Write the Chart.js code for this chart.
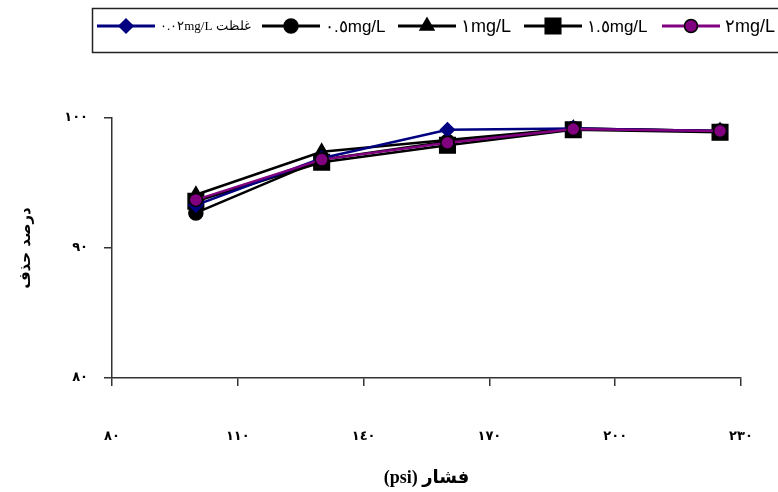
<!DOCTYPE html>
<html>
<head>
<meta charset="utf-8">
<script src="https://cdn.jsdelivr.net/npm/chart.js@4"></script>
<style>
  html, body { margin: 0; padding: 0; background: #fff; }
  #wrap { width: 778px; height: 492px; }
</style>
</head>
<body>
<div id="wrap"><canvas id="chart"></canvas></div>
<script>
// pressure (psi) and removal percent per concentration
const pressure = [100, 130, 160, 190, 225];
const seriesLabels = ['٠.٠٢mg/L غلظت', '٠.٥mg/L', '١mg/L', '١.٥mg/L', '٢mg/L'];
const removal002 = [93.3, 96.9, 99.1, 99.2, 99.0];
const removal05  = [92.7, 96.8, 98.2, 99.2, 99.0];
const removal1   = [94.1, 97.4, 98.3, 99.2, 99.0];
const removal15  = [93.6, 96.6, 97.9, 99.1, 98.9];
const removal2   = [93.7, 96.8, 98.1, 99.15, 99.0];

const xTickLabels = {80: '٨٠', 110: '١١٠', 140: '١٤٠', 170: '١٧٠', 200: '٢٠٠', 230: '٢٣٠'};
const yTickLabels = {80: '٨٠', 90: '٩٠', 100: '١٠٠'};
const xTitle = '\u202Bفشار (psi)\u202C';
const yTitle = 'درصد حذف';

const toXY = (ys) => ys.map((y, i) => ({x: pressure[i], y: y}));

// legend with line + marker samples, drawn inside an open box on top
const lineLegend = {
  id: 'lineLegend',
  afterDraw(chart, args, opts) {
    const ctx = chart.ctx;
    ctx.save();
    ctx.strokeStyle = '#222';
    ctx.lineWidth = 1.5;
    ctx.strokeRect(92.5, 8.5, 720, 44);
    chart.data.datasets.forEach((ds, i) => {
      const x = opts.itemX[i], y = 26;
      ctx.strokeStyle = ds.borderColor;
      ctx.lineWidth = 3;
      ctx.beginPath();
      ctx.moveTo(x, y);
      ctx.lineTo(x + 58, y);
      ctx.stroke();
      ctx.fillStyle = ds.pointBackgroundColor;
      ctx.strokeStyle = ds.pointBorderColor;
      ctx.lineWidth = ds.pointBorderWidth;
      Chart.helpers.drawPoint(ctx, {
        pointStyle: ds.pointStyle,
        radius: ds.pointRadius,
        borderWidth: ds.pointBorderWidth,
        rotation: 0
      }, x + 29, y);
      ctx.fillStyle = '#000';
      ctx.font = opts.fonts[i];
      ctx.textBaseline = 'middle';
      ctx.textAlign = 'left';
      ctx.fillText(ds.label, x + 63, y + 1);
    });
    ctx.restore();
  }
};

const makeSet = (i, data, color, style, radius, fill, order) => ({
  label: seriesLabels[i],
  data: toXY(data),
  borderColor: color,
  borderWidth: 2.5,
  pointStyle: style,
  pointRadius: radius,
  pointHoverRadius: radius,
  pointBackgroundColor: fill,
  pointBorderColor: fill === '#800080' ? '#000' : fill,
  pointBorderWidth: 1.5,
  tension: 0,
  clip: false,
  order: order
});

new Chart(document.getElementById('chart'), {
  type: 'line',
  data: {
    datasets: [
      makeSet(0, removal002, '#000080', 'rectRot', 7, '#000080', 1),
      makeSet(1, removal05, '#000', 'circle', 7, '#000', 4),
      makeSet(2, removal1, '#000', 'triangle', 8, '#000', 3),
      makeSet(3, removal15, '#000', 'rect', 11, '#000', 2),
      makeSet(4, removal2, '#800080', 'circle', 6.5, '#800080', 0)
    ]
  },
  options: {
    responsive: true,
    maintainAspectRatio: false,
    animation: false,
    devicePixelRatio: 1,
    layout: { padding: { top: 118, right: 37, left: 0, bottom: 0 } },
    plugins: {
      legend: { display: false },
      tooltip: { enabled: false },
      lineLegend: {
        itemX: [97, 262, 398, 524, 662],
        fonts: ['13px "Liberation Serif"', '17px "Liberation Sans"', '18px "Liberation Sans"',
                '17px "Liberation Sans"', '18px "Liberation Sans"']
      }
    },
    scales: {
      x: {
        type: 'linear',
        min: 80,
        max: 230,
        afterFit: (s) => { s.height = 114; s.paddingLeft = 0; s.paddingRight = 0; },
        ticks: {
          stepSize: 30,
          padding: 43,
          color: '#000',
          font: { family: 'DejaVu Sans', size: 13, weight: 'bold' },
          callback: (v) => xTickLabels[v] ?? ''
        },
        grid: { drawOnChartArea: false, drawTicks: true, tickLength: 8, color: '#333', lineWidth: 1.5 },
        border: { display: true, color: '#333', width: 1.5 },
        title: {
          display: true,
          text: xTitle,
          color: '#000',
          font: { family: '"Liberation Serif", "DejaVu Sans"', size: 18, weight: 'bold' },
          padding: { top: 0, bottom: 3 }
        }
      },
      y: {
        min: 80,
        max: 100,
        afterFit: (s) => { s.width = 112; },
        ticks: {
          stepSize: 10,
          padding: 16,
          color: '#000',
          font: { family: 'DejaVu Sans', size: 13, weight: 'bold' },
          callback: (v) => yTickLabels[v] ?? ''
        },
        grid: { drawOnChartArea: false, drawTicks: true, tickLength: 8, color: '#333', lineWidth: 1.5 },
        border: { display: true, color: '#333', width: 1.5 },
        title: {
          display: true,
          text: yTitle,
          color: '#000',
          font: { family: 'DejaVu Sans', size: 15, weight: 'bold' },
          padding: { top: 17, bottom: 0 }
        }
      }
    }
  },
  plugins: [lineLegend]
});
</script>
</body>
</html>
